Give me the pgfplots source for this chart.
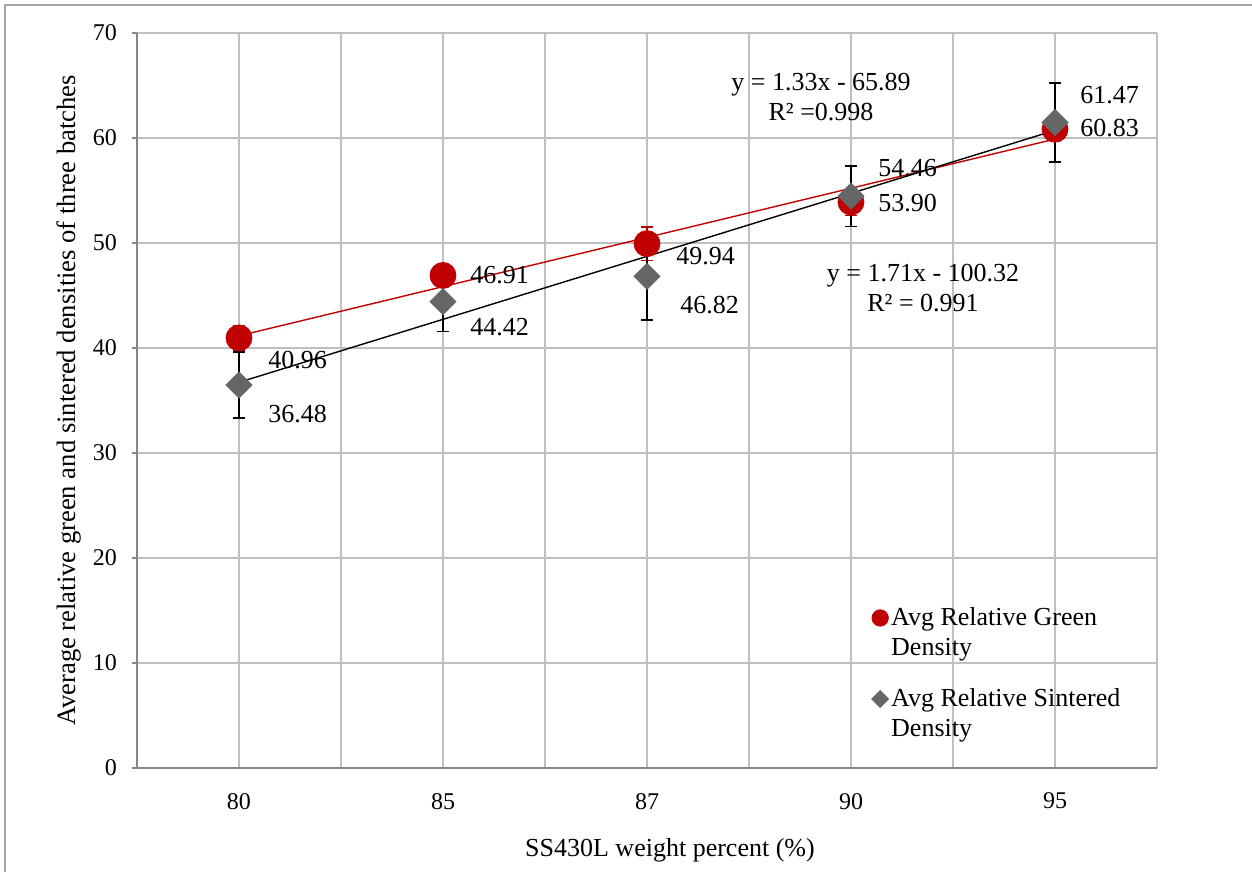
\documentclass[border=0pt]{standalone}
\usepackage{fontspec}
\setmainfont{Liberation Serif}
\usepackage{pgfplots}
\pgfplotsset{compat=1.18}
\definecolor{gridgray}{HTML}{BFBFBF}
\definecolor{axgray}{HTML}{868686}
\definecolor{framegray}{HTML}{A6A6A6}
\definecolor{greenred}{HTML}{C00000}
\definecolor{sintgray}{HTML}{666666}
\begin{document}
\begin{tikzpicture}
\useasboundingbox (-68.5bp,-52bp) rectangle (557.5bp,384bp);
\draw[framegray, line width=1bp] (-66bp,-100bp) -- (-66bp,381.5bp) -- (700bp,381.5bp);
\begin{axis}[
  scale only axis, width=510bp, height=367.5bp,
  xmin=-0.5, xmax=4.5, ymin=0, ymax=70,
  xtick={0,1,2,3,4}, xticklabels={80,85,87,90,95},
  minor xtick={-0.5,0.5,1.5,2.5,3.5,4.5},
  ytick={0,10,...,70},
  grid=both,
  major grid style={gridgray, line width=0.6bp},
  minor grid style={gridgray, line width=0.6bp},
  axis x line*=bottom, axis y line*=left,
  axis line style={axgray, line width=0.6bp},
  x axis line style={-}, y axis line style={-},
  xtick style={draw=none},
  ytick style={axgray, line width=0.6bp},
  tick align=outside, major tick length=2.5bp, minor tick length=0pt,
  /pgf/number format/assume math mode=true,
  tick label style={font=\fontsize{12bp}{14bp}\selectfont},
  xticklabel style={yshift=-6.5bp},
  yticklabel style={xshift=-4bp},
  xlabel={SS430L weight percent (\%)},
  ylabel={Average relative green and sintered densities of three batches},
  xlabel style={at={(axis description cs:0.5225,-0.1116)}, anchor=center, font=\fontsize{13bp}{15bp}\selectfont},
  ylabel style={at={(axis description cs:-0.0666,0.5)}, anchor=center, font=\fontsize{13.3bp}{15bp}\selectfont},
  legend style={at={(axis description cs:0.7196,0.219)}, anchor=north west, draw=none, fill=none,
    inner sep=0pt, row sep=15bp,
    nodes={inner sep=0pt, align=left, font=\fontsize{13bp}{15bp}\selectfont},
  },
  legend cell align=left,
]
% error bars (drawn first, under markers)
\addplot[only marks, mark=none, forget plot, greenred,
  error bars/.cd, y dir=both, y explicit,
  error bar style={greenred, line width=0.7bp},
  error mark options={greenred, mark size=3bp, line width=0.7bp, rotate=90}]
  coordinates {(0,40.96) +- (0,1.15) (1,46.91) +- (0,0.8) (2,49.94) +- (0,1.6) (3,53.90) +- (0,1.26) (4,60.83) +- (0,0.8)};
\addplot[only marks, mark=none, forget plot, black,
  error bars/.cd, y dir=both, y explicit,
  error bar style={black, line width=0.7bp},
  error mark options={black, mark size=3bp, line width=0.7bp, rotate=90}]
  coordinates {(0,36.48) +- (0,3.15) (1,44.42) +- (0,2.87) (2,46.82) +- (0,4.15) (3,54.46) +- (0,2.86) (4,61.47) +- (0,3.75)};
% red trend line
\addplot[greenred, line width=0.7bp, forget plot] coordinates {(0,41.16) (4,59.9)};
% markers
\addplot[only marks, mark=*, mark size=6.5bp, color=greenred, mark options={fill=greenred, draw=greenred},
  legend image code/.code={\path[draw=none, fill=none] (-4bp,-11.5bp) rectangle (5.5bp,11.5bp); \fill[greenred] (0bp,7.5bp) circle (4.1bp);}]
  coordinates {(0,40.96) (1,46.91) (2,49.94) (3,53.90) (4,60.83)};
\addlegendentry{Avg Relative Green\\Density}
\addplot[only marks, mark=square*, mark size=4.6bp, color=sintgray, mark options={rotate=45, fill=sintgray, draw=sintgray},
  legend image code/.code={\path[draw=none, fill=none] (-4bp,-11.5bp) rectangle (5.5bp,11.5bp); \fill[sintgray] (0bp,3.3bp) -- (4.2bp,7.5bp) -- (0bp,11.7bp) -- (-4.2bp,7.5bp) -- cycle;}]
  coordinates {(0,36.48) (1,44.42) (2,46.82) (3,54.46) (4,61.47)};
\addlegendentry{Avg Relative Sintered\\Density}
% black trend line
\addplot[black, line width=0.7bp, forget plot] coordinates {(0,36.73) (4,60.73)};
% data labels
\begin{scope}[every node/.style={anchor=west, inner sep=0pt, font=\fontsize{13bp}{15bp}\selectfont}]
\node at (axis cs:0.142,38.86) {40.96};
\node at (axis cs:1.132,46.95) {46.91};
\node at (axis cs:2.142,48.76) {49.94};
\node at (axis cs:3.132,53.81) {53.90};
\node at (axis cs:4.123,60.95) {60.83};
\node at (axis cs:0.142,33.71) {36.48};
\node at (axis cs:1.132,42.0) {44.42};
\node at (axis cs:2.162,44.1) {46.82};
\node at (axis cs:3.132,57.14) {54.46};
\node at (axis cs:4.123,64.1) {61.47};
\end{scope}
\node[align=center, inner sep=0pt, font=\fontsize{13bp}{15bp}\selectfont] at (axis cs:2.853,63.9) {y = 1.33x - 65.89\\R² =0.998};
\node[align=center, inner sep=0pt, font=\fontsize{13bp}{15bp}\selectfont] at (axis cs:3.353,45.71) {y = 1.71x - 100.32\\R² = 0.991};
\end{axis}
\end{tikzpicture}
\end{document}
